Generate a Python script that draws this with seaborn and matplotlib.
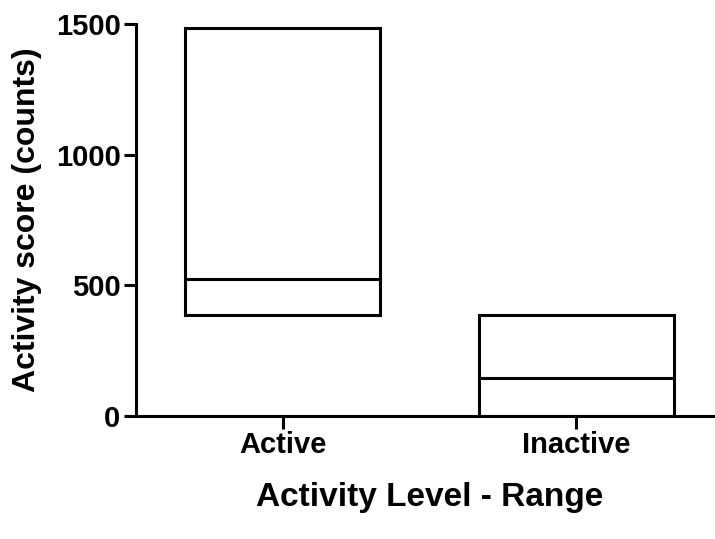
import numpy as np
import pandas as pd
import matplotlib
matplotlib.use("Agg")
import matplotlib.pyplot as plt
import seaborn as sns

# floating bars: min..max range with median line
levels = ["Active", "Inactive"]
range_min = [388, 0]
range_max = [1486, 386]
medians = [523, 144]

sns.set_style("ticks")
plt.rcParams['font.family'] = ['Liberation Sans', 'DejaVu Sans']
plt.rcParams['font.weight'] = 'bold'
for k in ["text.color", "axes.labelcolor", "xtick.color", "ytick.color", "axes.edgecolor"]:
    plt.rcParams[k] = "black"

df = pd.DataFrame({"level": levels,
                   "low": range_min,
                   "span": np.array(range_max) - np.array(range_min)})

fig = plt.figure(figsize=(7.15, 5.39), dpi=100)
ax = fig.add_axes([0.190, 0.228, 0.821, 0.7275])

bw = 0.665
sns.barplot(data=df, x="level", y="span", order=levels, bottom=df["low"].values,
            width=bw, fill=False, color="black", linewidth=2.2, edgecolor="black",
            errorbar=None, ax=ax)

pos = np.arange(len(levels))
ax.hlines(medians, pos - bw / 2, pos + bw / 2, colors="black", linewidth=2.2)

ax.set_xlim(-0.5, 1.5)
ax.set_ylim(0, 1500)
ax.set_yticks([0, 500, 1000, 1500])
sns.despine(ax=ax)
for s in ["left", "bottom"]:
    ax.spines[s].set_linewidth(2.2)
ax.tick_params(axis="both", width=2.2, length=9, labelsize=21, pad=2)
for lab in ax.get_xticklabels() + ax.get_yticklabels():
    lab.set_fontweight("bold")

ax.set_xlabel("Activity Level - Range", fontsize=24, fontweight="bold", labelpad=16)
ax.set_ylabel("Activity score (counts)", fontsize=23, fontweight="bold", labelpad=10)

fig.savefig("out.png", dpi=100)
